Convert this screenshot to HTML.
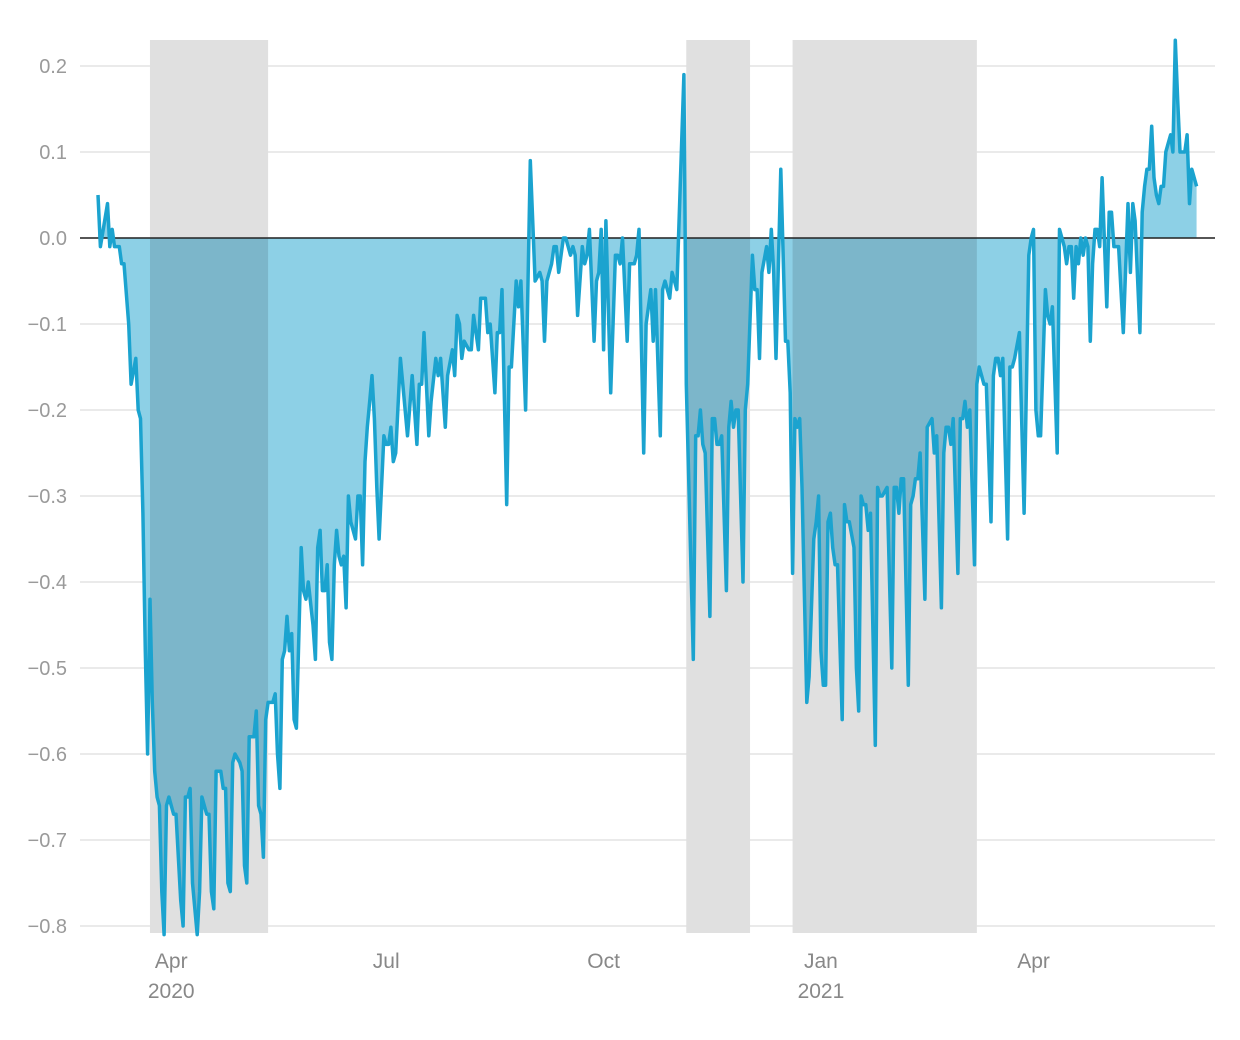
<!DOCTYPE html>
<html><head><meta charset="utf-8">
<style>
html,body{margin:0;padding:0;background:#fff;}
svg{display:block;font-family:"Liberation Sans",sans-serif;}
</style></head>
<body>
<svg id="chart" width="1240" height="1040" viewBox="0 0 1240 1040" xmlns="http://www.w3.org/2000/svg">
<defs><clipPath id="areaClip"><path id="areaClipPath"/></clipPath></defs>
<g id="grid"></g>
<g id="shades"></g>
<path id="area" fill="#8dd0e6"/>
<g id="shades2" clip-path="url(#areaClip)" style="mix-blend-mode:multiply"></g>
<line id="zero" stroke="#222" stroke-width="1.6"/>
<path id="line" fill="none" stroke="#1ba3cf" stroke-width="3.5" stroke-linejoin="round"/>
<g id="yticks"></g>
<g id="xticks"></g>
</svg>
<script>
// days since 2020-03-01
const days=[0,1,4,5,6,7,9,10,11,13,14,16,17,18,19,20,21,22,23,24,25,26,27,28,29,30,32,33,35,36,37,38,39,40,42,43,44,46,47,48,49,50,52,53,54,55,56,57,58,60,61,62,63,64,66,67,68,69,70,71,72,74,75,76,77,78,79,80,81,82,83,84,86,87,88,89,91,92,93,94,95,96,97,98,99,100,101,102,103,104,105,106,107,109,110,111,112,113,114,115,116,117,118,119,
121,122,123,124,125,126,128,129,131,133,135,136,137,138,140,141,143,144,145,147,148,150,151,152,153,154,155,157,158,159,161,162,164,165,166,168,169,170,171,173,174,175,177,178,179,181,183,185,187,188,189,190,192,193,194,195,197,198,200,201,202,203,205,206,207,208,210,211,212,213,214,215,217,219,220,221,222,224,225,227,228,229,231,232,234,235,236,238,239,240,242,243,245,248,249,252,253,254,255,256,257,259,260,261,262,263,264,266,267,268,269,270,271,273,274,275,277,278,279,280,281,283,284,285,286,287,289,291,292,293,294,295,296,297,298,300,301,303,304,305,306,307,308,309,310,311,312,313,315,316,317,318,320,321,322,323,324,325,326,327,329,330,331,332,334,336,337,338,339,340,341,343,344,345,346,347,348,350,351,353,354,355,357,358,359,360,361,362,364,365,366,367,368,369,371,372,373,374,375,376,378,379,380,381,382,383,385,386,387,388,390,392,394,395,396,397,398,399,401,402,403,404,406,407,408,409,410,411,412,413,414,415,416,417,418,419,420,421,422,423,424,425,427,428,429,430,432,434,436,437,438,439,441,442,443,444,445,446,447,448,449,450,451,452,453,454,455,456,457,458,460,461,462,463,465];
const values=[0.05,-0.01,0.04,-0.01,0.01,-0.01,-0.01,-0.03,-0.03,-0.1,-0.17,-0.14,-0.2,-0.21,-0.32,-0.48,-0.6,-0.42,-0.54,-0.62,-0.65,-0.66,-0.76,-0.81,-0.66,-0.65,-0.67,-0.67,-0.77,-0.8,-0.65,-0.65,-0.64,-0.75,-0.81,-0.76,-0.65,-0.67,-0.67,-0.76,-0.78,-0.62,-0.62,-0.64,-0.64,-0.75,-0.76,-0.61,-0.6,-0.61,-0.62,-0.73,-0.75,-0.58,-0.58,-0.55,-0.66,-0.67,-0.72,-0.56,-0.54,-0.54,-0.53,-0.6,-0.64,-0.49,-0.48,-0.44,-0.48,-0.46,-0.56,-0.57,-0.36,-0.41,-0.42,-0.4,-0.45,-0.49,-0.36,-0.34,-0.41,-0.41,-0.38,-0.47,-0.49,-0.38,-0.34,-0.37,-0.38,-0.37,-0.43,-0.3,-0.33,-0.35,-0.3,-0.3,-0.38,-0.26,-0.22,-0.19,-0.16,-0.21,-0.29,-0.35,
-0.23,-0.24,-0.24,-0.22,-0.26,-0.25,-0.14,-0.17,-0.23,-0.16,-0.24,-0.17,-0.17,-0.11,-0.23,-0.19,-0.14,-0.16,-0.14,-0.22,-0.16,-0.13,-0.16,-0.09,-0.1,-0.14,-0.12,-0.13,-0.13,-0.09,-0.13,-0.07,-0.07,-0.11,-0.1,-0.18,-0.11,-0.11,-0.06,-0.31,-0.15,-0.15,-0.05,-0.08,-0.05,-0.2,0.09,-0.05,-0.04,-0.05,-0.12,-0.05,-0.03,-0.01,-0.01,-0.04,0,0,-0.02,-0.01,-0.02,-0.09,-0.01,-0.03,-0.02,0.01,-0.12,-0.05,-0.04,0.01,-0.13,0.02,-0.18,-0.02,-0.02,-0.03,0,-0.12,-0.03,-0.03,-0.02,0.01,-0.25,-0.1,-0.06,-0.12,-0.06,-0.23,-0.06,-0.05,-0.07,-0.04,-0.06,0.19,-0.17,-0.49,-0.23,-0.23,-0.2,-0.24,-0.25,-0.44,-0.21,-0.21,-0.24,-0.24,-0.23,-0.41,-0.22,-0.19,-0.22,-0.2,-0.2,-0.4,-0.2,-0.17,-0.02,-0.06,-0.06,-0.14,-0.04,-0.01,-0.04,0.01,-0.04,-0.14,0.08,-0.12,-0.12,-0.18,-0.39,-0.21,-0.22,-0.21,-0.29,-0.54,-0.51,-0.35,-0.33,-0.3,-0.48,-0.52,-0.52,-0.33,-0.32,-0.36,-0.38,-0.38,-0.56,-0.31,-0.33,-0.33,-0.36,-0.5,-0.55,-0.3,-0.31,-0.31,-0.34,-0.32,-0.59,-0.29,-0.3,-0.3,-0.29,-0.5,-0.29,-0.29,-0.32,-0.28,-0.28,-0.52,-0.31,-0.3,-0.28,-0.28,-0.25,-0.42,-0.22,-0.21,-0.25,-0.23,-0.43,-0.25,-0.22,-0.22,-0.24,-0.21,-0.39,-0.21,-0.21,-0.19,-0.22,-0.2,-0.38,-0.17,-0.15,-0.16,-0.17,-0.17,-0.33,-0.16,-0.14,-0.14,-0.16,-0.14,-0.35,-0.15,-0.15,-0.14,-0.11,-0.32,-0.02,0,0.01,-0.2,-0.23,-0.23,-0.06,-0.09,-0.1,-0.08,-0.25,0.01,0,-0.01,-0.03,-0.01,-0.01,-0.07,-0.01,-0.03,0,-0.02,0,-0.01,-0.12,-0.03,0.01,0.01,-0.01,0.07,-0.08,0.03,0.03,-0.01,-0.01,-0.11,0.04,-0.04,0.04,0.02,-0.11,0.03,0.06,0.08,0.08,0.13,0.07,0.05,0.04,0.06,0.06,0.1,0.11,0.12,0.1,0.23,0.16,0.1,0.1,0.12,0.04,0.08,0.06];
const shadeStart=[22,249,294];
const shadeEnd=[72,276,372];
const yTicks=[0.2,0.1,0,-0.1,-0.2,-0.3,-0.4,-0.5,-0.6,-0.7,-0.8];
const xTickDays=[31,122,214,306,396];
const xTickLabels=["Apr","Jul","Oct","Jan","Apr"];
const xTickYears=["2020","","","2021",""];

const NS="http://www.w3.org/2000/svg";
const X=d=>98+d*2.3625;
const Y=v=>238-v*860;
const L=80,R=1215,TOP=40,BOT=933;
function mk(tag,attrs,parent){const e=document.createElementNS(NS,tag);for(const k in attrs)e.setAttribute(k,attrs[k]);parent.appendChild(e);return e;}

const grid=document.getElementById('grid'), yt=document.getElementById('yticks'), xt=document.getElementById('xticks');
yTicks.forEach(v=>{
  const g=mk('line',{x1:L,x2:R,y1:Y(v),y2:Y(v),stroke:'#e3e3e3','stroke-width':1.5},grid);
  
  
  const t=mk('text',{x:67,y:Y(v)+7,'text-anchor':'end','font-size':20,fill:'#9a9a9a'},yt);
  
  
  t.textContent=(v<0?'\u2212':'')+Math.abs(v).toFixed(1);
});
xTickDays.forEach((d,i)=>{
  const t=mk('text',{x:X(d),y:968,'text-anchor':'middle','font-size':21,fill:'#888'},xt);
  
  
  t.textContent=xTickLabels[i];
  if(xTickYears[i]){
    const t2=mk('text',{x:X(d),y:998,'text-anchor':'middle','font-size':21,fill:'#888'},xt);
    
    
    t2.textContent=xTickYears[i];
  }
});
['shades','shades2'].forEach(id=>{
  const p=document.getElementById(id);
  shadeStart.forEach((s,i)=>{
    const r=mk('rect',{x:X(s),y:TOP,width:X(shadeEnd[i])-X(s),height:BOT-TOP,fill:'#e0e0e0'},p);
    
    
  });
});
let pts=days.map((d,i)=>X(d).toFixed(1)+','+Y(values[i]).toFixed(1));
document.getElementById('line').setAttribute('d','M'+pts.join('L'));
const areaD='M'+X(days[0])+','+Y(0)+'L'+pts.join('L')+'L'+X(days[days.length-1])+','+Y(0)+'Z';
document.getElementById('area').setAttribute('d',areaD);
document.getElementById('areaClipPath').setAttribute('d',areaD);
const z=document.getElementById('zero');
z.setAttribute('x1',L);z.setAttribute('x2',R);z.setAttribute('y1',Y(0));z.setAttribute('y2',Y(0));
</script>
</body></html>
